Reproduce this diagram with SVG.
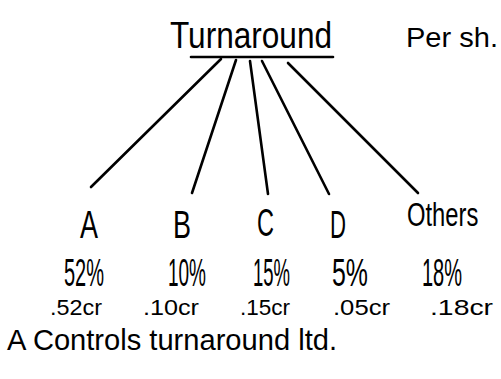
<svg xmlns="http://www.w3.org/2000/svg" width="501" height="379" viewBox="0 0 501 379">
  <style>
    .hand { font-family: "Liberation Sans", "DejaVu Sans", sans-serif; fill: #000; }
    .edge { stroke: #000; stroke-width: 2.6; stroke-linecap: round; fill: none; }
  </style>
  <rect width="501" height="379" fill="#fff"/>

  <!-- parent company -->
  <g id="node-turnaround">
    <text class="hand" x="170" y="48" font-size="36" textLength="162" lengthAdjust="spacingAndGlyphs">Turnaround</text>
    <line class="edge" x1="191" y1="57" x2="333" y2="57"/>
  </g>
  <text class="hand" x="406" y="47" font-size="27" textLength="92" lengthAdjust="spacingAndGlyphs">Per sh.</text>

  <!-- ownership links -->
  <g id="connectors">
    <line class="edge" x1="221" y1="59" x2="91" y2="187"/>
    <line class="edge" x1="236" y1="60" x2="192" y2="193"/>
    <line class="edge" x1="250" y1="61" x2="268" y2="194"/>
    <line class="edge" x1="262" y1="61" x2="329" y2="194"/>
    <line class="edge" x1="288" y1="63" x2="418" y2="193"/>
  </g>

  <!-- shareholders -->
  <g id="node-a">
    <text class="hand" x="80" y="238" font-size="38" textLength="18" lengthAdjust="spacingAndGlyphs">A</text>
    <text class="hand" x="64" y="286" font-size="38" textLength="40" lengthAdjust="spacingAndGlyphs">52%</text>
    <text class="hand" x="50" y="315" font-size="22" textLength="52" lengthAdjust="spacingAndGlyphs">.52cr</text>
  </g>
  <g id="node-b">
    <text class="hand" x="173" y="238" font-size="38" textLength="18" lengthAdjust="spacingAndGlyphs">B</text>
    <text class="hand" x="168" y="286" font-size="38" textLength="38" lengthAdjust="spacingAndGlyphs">10%</text>
    <text class="hand" x="143" y="315" font-size="22" textLength="56" lengthAdjust="spacingAndGlyphs">.10cr</text>
  </g>
  <g id="node-c">
    <text class="hand" x="257" y="236" font-size="38" textLength="17" lengthAdjust="spacingAndGlyphs">C</text>
    <text class="hand" x="253" y="286" font-size="38" textLength="37" lengthAdjust="spacingAndGlyphs">15%</text>
    <text class="hand" x="240" y="315" font-size="22" textLength="50" lengthAdjust="spacingAndGlyphs">.15cr</text>
  </g>
  <g id="node-d">
    <text class="hand" x="330" y="238" font-size="38" textLength="16" lengthAdjust="spacingAndGlyphs">D</text>
    <text class="hand" x="332" y="286" font-size="38" textLength="36" lengthAdjust="spacingAndGlyphs">5%</text>
    <text class="hand" x="333" y="315" font-size="22" textLength="57" lengthAdjust="spacingAndGlyphs">.05cr</text>
  </g>
  <g id="node-others">
    <text class="hand" transform="translate(407,226) scale(0.7,1)" font-size="34">Others</text>
    <text class="hand" x="422" y="286" font-size="38" textLength="40" lengthAdjust="spacingAndGlyphs">18%</text>
    <text class="hand" x="430" y="315" font-size="22" textLength="63" lengthAdjust="spacingAndGlyphs">.18cr</text>
  </g>

  <text class="hand" x="7" y="350" font-size="30" textLength="330" lengthAdjust="spacingAndGlyphs">A Controls turnaround ltd.</text>
</svg>
